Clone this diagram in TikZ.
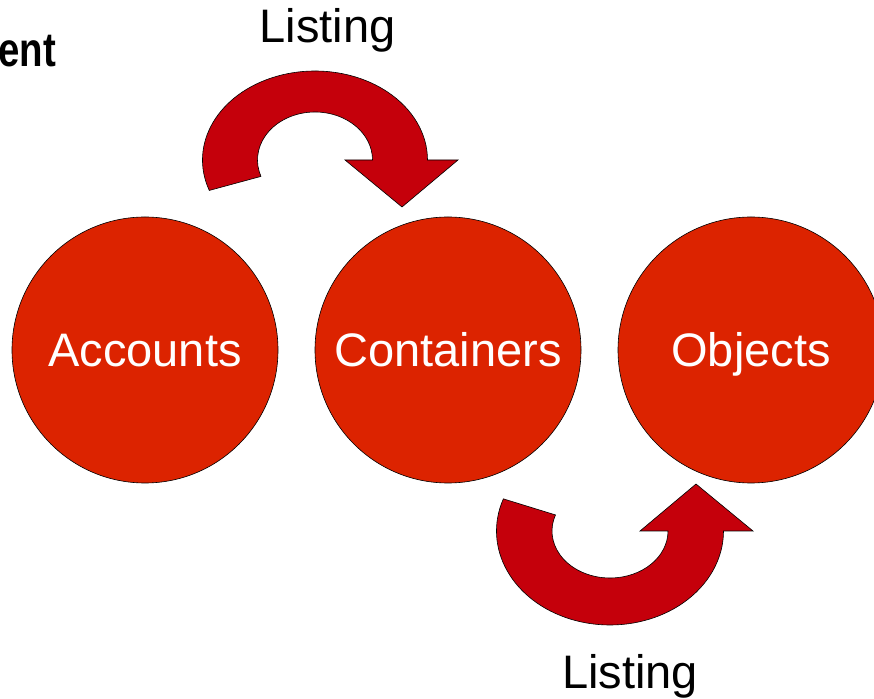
\documentclass[tikz,border=0pt]{standalone}
\usepackage{fontspec}
\setmainfont{Liberation Sans}
\definecolor{circfill}{HTML}{DC2300}
\definecolor{arrfill}{HTML}{C5000B}
\begin{document}
\begin{tikzpicture}[x=1pt,y=1pt,
  bigcirc/.style={circle, draw=black, line width=0.6pt, fill=circfill, minimum size=266pt, inner sep=0pt, text=white, font=\fontsize{47}{56}\selectfont, text height=34pt, text depth=0pt},
  curvarrow/.style={draw=black, line width=0.6pt, fill=arrfill, line join=miter},
  lbl/.style={font=\fontsize{47}{56}\selectfont, text=black, inner sep=0pt}]
\useasboundingbox (0,0) rectangle (874,698);
\node[bigcirc] (acc) at (145,348) {Accounts};
\node[bigcirc] (con) at (448,348) {Containers};
\node[bigcirc] (obj) at (751,348) {Objects};
% top curved arrow
\draw[curvarrow] (315,538) ++(200:112.5 and 89)
  arc[start angle=200, end angle=0, x radius=112.5, y radius=89]
  -- (458,538) -- (402,491) -- (345,538) -- (372.5,538)
  arc[start angle=0, end angle=200, x radius=57.5, y radius=48] -- cycle;
% bottom curved arrow
\draw[curvarrow] (610,167) ++(160:113.5 and 94)
  arc[start angle=160, end angle=360, x radius=113.5, y radius=94]
  -- (753,167) -- (696,214) -- (640,167) -- (668,167)
  arc[start angle=360, end angle=160, x radius=58, y radius=47] -- cycle;
\node[lbl, anchor=base] (ltop) at (327.5,655) {Listing};
\node[lbl, anchor=base] (lbot) at (630,10) {Listing};
\node[font=\fontsize{48}{56}\selectfont\bfseries, inner sep=0pt, anchor=base east] (title) at (56,631.5) {\scalebox{0.8}[1]{ent}};
\end{tikzpicture}
\end{document}
